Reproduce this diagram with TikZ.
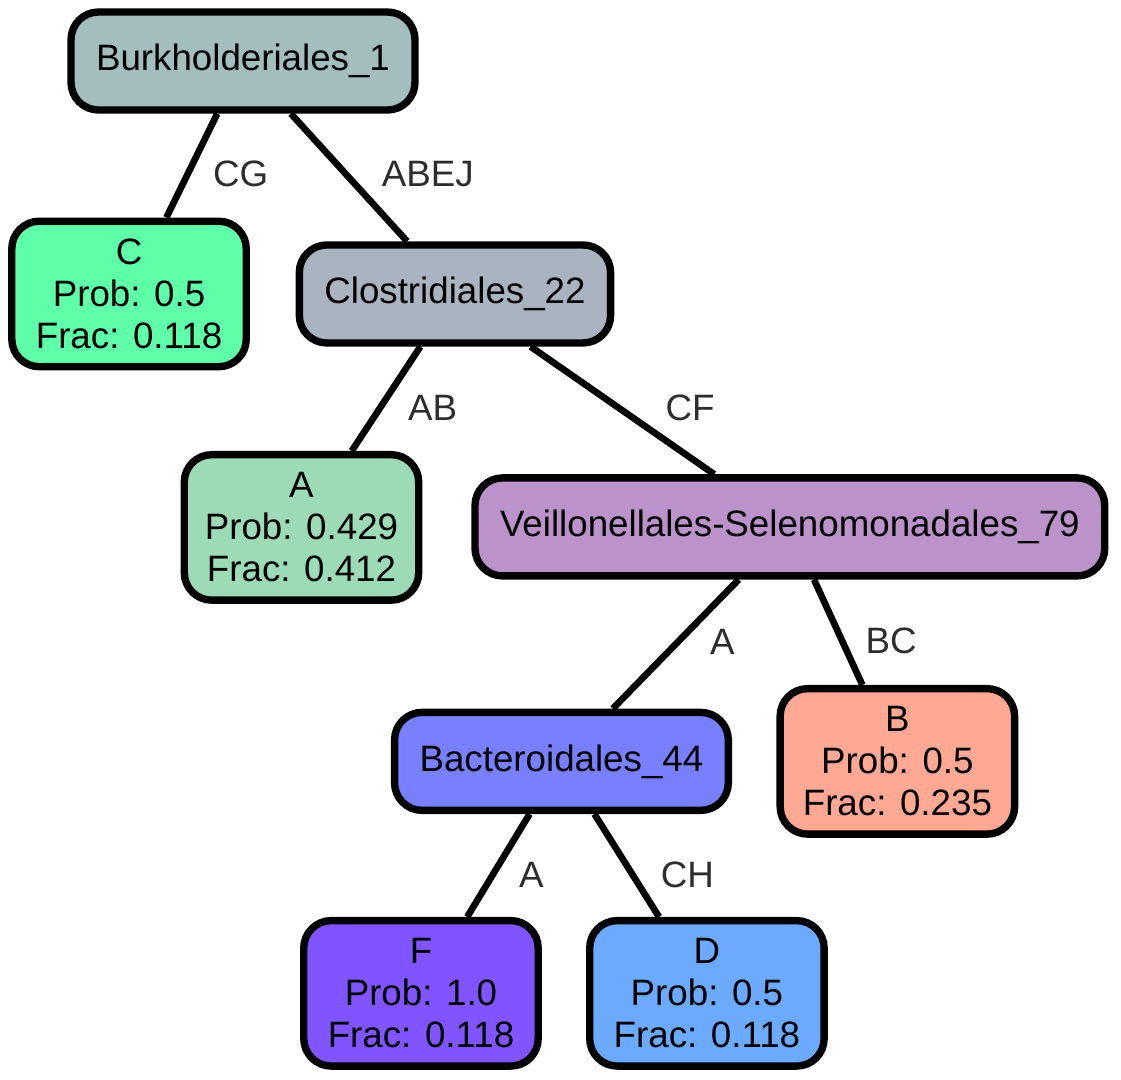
\documentclass[tikz,border=0pt]{standalone}
\usepackage{fontspec}
\setmainfont{Liberation Sans}
\usepackage{xcolor}
\usetikzlibrary{positioning}
\definecolor{burkgray}{RGB}{163, 190, 189}
\definecolor{cgreen}{RGB}{94, 255, 168}
\definecolor{clostgray}{RGB}{170, 179, 192}
\definecolor{agreen}{RGB}{157, 219, 183}
\definecolor{veilpurple}{RGB}{187, 146, 201}
\definecolor{bactblue}{RGB}{120, 128, 255}
\definecolor{bsalmon}{RGB}{255, 169, 148}
\definecolor{fviolet}{RGB}{128, 85, 255}
\definecolor{dblue}{RGB}{107, 170, 255}
\definecolor{labelgray}{RGB}{45, 45, 45}
\tikzset{
    taxon/.style={rectangle, rounded corners=0.55cm, draw=black, fill=#1,
                  line width=4.2pt, minimum height=1.96cm, inner xsep=0.5cm,
                  font=\fontsize{20.9pt}{23.9pt}\selectfont},
    leaf/.style={rectangle, rounded corners=0.55cm, draw=black, fill=#1,
                 line width=4.2pt, minimum width=4.69cm, minimum height=2.91cm,
                 align=center, inner sep=0pt,
                 font=\fontsize{20.9pt}{23.9pt}\selectfont},
    link/.style={line width=3.8pt, color=black},
    lbl/.style={inner sep=0pt, text=labelgray,
                font=\fontsize{20.9pt}{23.9pt}\selectfont},
}
\begin{document}
\begin{tikzpicture}[x=0.02cm, y=0.02cm, on grid]
    \useasboundingbox (0,0) rectangle (1121,-1079);

    \node[taxon=burkgray] (burk) at (243,-61) {Burkholderiales\_1};
    \node[leaf=cgreen, below left=4.66cm and 2.28cm of burk] (cnode) {C\\Prob: 0.5\\Frac: 0.118};
    \node[taxon=clostgray, below right=4.66cm and 4.24cm of burk] (clost) {Clostridiales\_22};

    % Clostridiales branch
    \node[leaf=agreen, below left=4.67cm and 3.07cm of clost] (anode) {A\\Prob: 0.429\\Frac: 0.412};
    \node[taxon=veilpurple, below right=4.66cm and 6.7cm of clost] (veil) {Veillonellales-Selenomonadales\_79};

    % Veillonellales branch
    \node[taxon=bactblue, below left=4.69cm and 4.57cm of veil] (bact) {Bacteroidales\_44};
    \node[leaf=bsalmon, below right=4.69cm and 2.15cm of veil] (bnode) {B\\Prob: 0.5\\Frac: 0.235};

    % Bacteroidales branch
    \node[leaf=fviolet, below left=4.64cm and 2.81cm of bact] (fnode) {F\\Prob: 1.0\\Frac: 0.118};
    \node[leaf=dblue, below right=4.64cm and 2.91cm of bact] (dnode) {D\\Prob: 0.5\\Frac: 0.118};

    % Links
    \draw[link] (burk) -- node[lbl, right=0.44cm, pos=0.58] {CG} (cnode);
    \draw[link] (burk) -- node[lbl, right=0.66cm, pos=0.47] {ABEJ} (clost);
    \draw[link] (clost) -- node[lbl, right=0.5cm, pos=0.59] {AB} (anode);
    \draw[link] (clost) -- node[lbl, right=0.87cm, pos=0.48] {CF} (veil);
    \draw[link] (veil) -- node[lbl, right=0.57cm, pos=0.48] {A} (bact);
    \draw[link] (veil) -- node[lbl, right=0.4cm, pos=0.585] {BC} (bnode);
    \draw[link] (bact) -- node[lbl, right=0.46cm, pos=0.59] {A} (fnode);
    \draw[link] (bact) -- node[lbl, right=0.5cm, pos=0.59] {CH} (dnode);
\end{tikzpicture}
\end{document}
